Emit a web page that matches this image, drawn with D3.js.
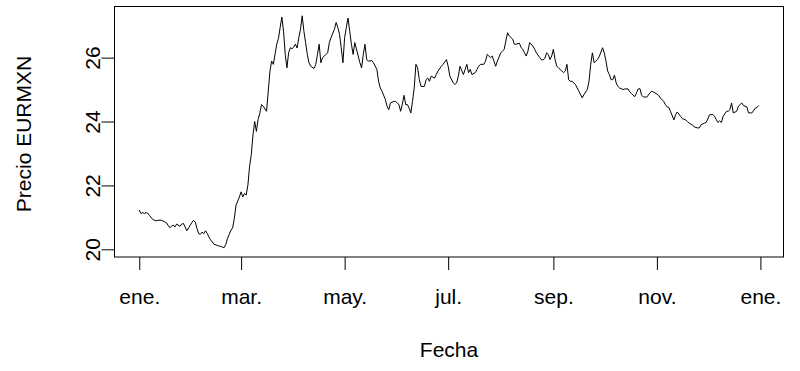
<!DOCTYPE html>
<html>
<head>
<meta charset="utf-8">
<script src="https://cdn.jsdelivr.net/npm/d3@7"></script>
<style>
  body { margin: 0; background: #fff; }
  text { font-family: "Liberation Sans", Arial, sans-serif; fill: #000; }
</style>
</head>
<body>
<div id="chart"></div>
<script>
// daily EURMXN closes, one line per month
var fechas = [
  "2020-01-01","2020-01-02","2020-01-03","2020-01-04","2020-01-05","2020-01-06","2020-01-07","2020-01-09","2020-01-10","2020-01-11","2020-01-12","2020-01-14","2020-01-16","2020-01-17","2020-01-18","2020-01-19","2020-01-20","2020-01-21","2020-01-22","2020-01-23","2020-01-25","2020-01-26","2020-01-27","2020-01-28","2020-01-29","2020-01-31",
  "2020-02-01","2020-02-02","2020-02-03","2020-02-04","2020-02-05","2020-02-06","2020-02-07","2020-02-08","2020-02-09","2020-02-10","2020-02-11","2020-02-12","2020-02-13","2020-02-14","2020-02-16","2020-02-18","2020-02-19","2020-02-20","2020-02-21","2020-02-22","2020-02-23","2020-02-24","2020-02-25","2020-02-26","2020-02-27","2020-02-29",
  "2020-03-01","2020-03-02","2020-03-03","2020-03-04","2020-03-05","2020-03-06","2020-03-07","2020-03-08","2020-03-09","2020-03-10","2020-03-11","2020-03-12","2020-03-13","2020-03-14","2020-03-16","2020-03-17","2020-03-18","2020-03-19","2020-03-20","2020-03-21","2020-03-22","2020-03-23","2020-03-24","2020-03-25","2020-03-26","2020-03-27","2020-03-28","2020-03-29","2020-03-30","2020-03-31",
  "2020-04-01","2020-04-02","2020-04-03","2020-04-04","2020-04-05","2020-04-06","2020-04-07","2020-04-08","2020-04-09","2020-04-10","2020-04-11","2020-04-13","2020-04-14","2020-04-15","2020-04-16","2020-04-17","2020-04-18","2020-04-20","2020-04-21","2020-04-22","2020-04-23","2020-04-25","2020-04-26","2020-04-27","2020-04-28","2020-04-29","2020-04-30",
  "2020-05-01","2020-05-02","2020-05-03","2020-05-04","2020-05-05","2020-05-06","2020-05-07","2020-05-09","2020-05-10","2020-05-11","2020-05-12","2020-05-13","2020-05-14","2020-05-15","2020-05-17","2020-05-18","2020-05-20","2020-05-21","2020-05-22","2020-05-23","2020-05-25","2020-05-26","2020-05-27","2020-05-28","2020-05-30","2020-05-31",
  "2020-06-02","2020-06-03","2020-06-04","2020-06-05","2020-06-06","2020-06-07","2020-06-08","2020-06-09","2020-06-10","2020-06-11","2020-06-12","2020-06-13","2020-06-14","2020-06-15","2020-06-17","2020-06-18","2020-06-19","2020-06-20","2020-06-21","2020-06-23","2020-06-24","2020-06-25","2020-06-27","2020-06-28","2020-06-30",
  "2020-07-01","2020-07-02","2020-07-04","2020-07-05","2020-07-06","2020-07-07","2020-07-08","2020-07-10","2020-07-11","2020-07-12","2020-07-13","2020-07-14","2020-07-15","2020-07-17","2020-07-18","2020-07-19","2020-07-20","2020-07-22","2020-07-23","2020-07-24","2020-07-25","2020-07-26","2020-07-27","2020-07-28","2020-07-29","2020-07-30",
  "2020-08-01","2020-08-02","2020-08-03","2020-08-04","2020-08-05","2020-08-06","2020-08-07","2020-08-08","2020-08-09","2020-08-10","2020-08-12","2020-08-13","2020-08-14","2020-08-15","2020-08-16","2020-08-17","2020-08-18","2020-08-20","2020-08-21","2020-08-22","2020-08-24","2020-08-25","2020-08-26","2020-08-27","2020-08-28","2020-08-29","2020-08-30","2020-08-31",
  "2020-09-01","2020-09-02","2020-09-03","2020-09-04","2020-09-06","2020-09-07","2020-09-08","2020-09-09","2020-09-10","2020-09-11","2020-09-12","2020-09-14","2020-09-15","2020-09-16","2020-09-18","2020-09-19","2020-09-21","2020-09-22","2020-09-23","2020-09-24","2020-09-25","2020-09-26","2020-09-27","2020-09-28","2020-09-30",
  "2020-10-01","2020-10-02","2020-10-03","2020-10-04","2020-10-05","2020-10-06","2020-10-07","2020-10-08","2020-10-09","2020-10-10","2020-10-12","2020-10-13","2020-10-15","2020-10-16","2020-10-17","2020-10-18","2020-10-19","2020-10-20","2020-10-21","2020-10-22","2020-10-23","2020-10-24","2020-10-25","2020-10-26","2020-10-28","2020-10-29","2020-10-30",
  "2020-11-01","2020-11-02","2020-11-03","2020-11-05","2020-11-06","2020-11-07","2020-11-08","2020-11-09","2020-11-11","2020-11-12","2020-11-13","2020-11-15","2020-11-16","2020-11-18","2020-11-19","2020-11-20","2020-11-22","2020-11-23","2020-11-25","2020-11-26","2020-11-27","2020-11-29","2020-11-30",
  "2020-12-01","2020-12-02","2020-12-04","2020-12-05","2020-12-06","2020-12-07","2020-12-08","2020-12-09","2020-12-10","2020-12-12","2020-12-13","2020-12-14","2020-12-15","2020-12-16","2020-12-18","2020-12-19","2020-12-21","2020-12-22","2020-12-24","2020-12-25","2020-12-26","2020-12-27","2020-12-29","2020-12-30","2020-12-31"
];
var precios = [
  21.23,21.12,21.15,21.12,21.15,21.13,21.06,20.93,20.91,20.89,20.91,20.91,20.86,20.83,20.75,20.68,20.72,20.76,20.70,20.79,20.72,20.79,20.81,20.70,20.58,20.75,
  20.84,20.91,20.85,20.65,20.49,20.47,20.54,20.49,20.58,20.50,20.39,20.30,20.23,20.16,20.12,20.09,20.07,20.05,20.16,20.34,20.47,20.60,20.67,20.97,21.38,21.64,
  21.80,21.64,21.75,21.70,22.01,22.60,22.96,23.58,24.00,23.69,24.06,24.25,24.53,24.48,24.32,24.95,25.58,25.89,25.79,26.10,26.42,26.60,26.94,27.27,26.83,26.10,25.68,26.15,26.31,26.28,
  26.33,26.42,26.30,26.63,26.89,27.31,26.83,26.47,26.10,25.84,25.73,25.66,25.79,26.10,26.42,25.84,26.00,26.10,26.15,26.47,26.63,26.89,27.10,26.94,26.73,26.31,25.84,
  26.63,26.94,27.24,26.83,26.42,26.10,26.47,26.05,25.84,25.68,26.10,26.42,25.94,25.89,25.91,25.84,25.63,25.26,25.05,24.95,24.69,24.48,24.37,24.58,24.63,24.63,
  24.53,24.32,24.55,24.82,24.53,24.53,24.42,24.27,24.63,25.05,25.79,25.68,25.31,25.10,25.10,25.31,25.36,25.26,25.42,25.36,25.47,25.58,25.73,25.79,25.94,
  25.73,25.42,25.21,25.16,25.21,25.42,25.73,25.47,25.63,25.79,25.53,25.63,25.47,25.53,25.63,25.73,25.79,25.79,25.89,26.10,26.05,26.00,26.05,25.89,25.73,25.89,
  26.15,26.20,26.26,26.52,26.78,26.68,26.63,26.58,26.42,26.42,26.45,26.31,26.26,26.15,26.05,26.20,26.47,26.36,26.26,26.15,26.00,25.93,25.93,25.98,26.15,26.10,25.94,26.05,
  26.26,25.94,25.73,25.68,25.58,25.53,25.58,25.79,25.31,25.26,25.26,25.16,25.05,24.95,24.74,24.84,25.00,25.26,25.79,26.15,25.84,25.89,25.94,26.03,26.31,
  26.15,25.89,25.58,25.47,25.31,25.31,25.45,25.21,25.10,25.05,25.00,25.02,25.02,24.93,24.88,24.82,24.78,24.90,25.02,25.03,24.82,24.77,24.77,24.76,24.90,24.95,24.92,
  24.86,24.82,24.74,24.63,24.53,24.46,24.44,24.32,24.05,24.21,24.30,24.16,24.09,24.05,24.00,23.95,23.89,23.83,23.80,23.80,23.90,23.95,23.97,
  24.08,24.21,24.22,24.16,24.06,23.97,24.02,23.97,24.16,24.32,24.32,24.37,24.58,24.27,24.32,24.48,24.58,24.50,24.46,24.27,24.27,24.27,24.42,24.44,24.50
];

// axis ticks
var xTickFechas = ["2020-01-01","2020-03-01","2020-05-01","2020-07-01","2020-09-01","2020-11-01","2021-01-01"];
var xTickLabels = ["ene.","mar.","may.","jul.","sep.","nov.","ene."];
var yTicks = [20, 22, 24, 26];

// set the dimensions and margins of the graph
var margin = {top: 6.5, right: 16.5, bottom: 114, left: 114.5},
    width = 800 - margin.left - margin.right,
    height = 371 - margin.top - margin.bottom;

var fontSize = 21;

var svg = d3.select("#chart")
  .append("svg")
    .attr("width", 800)
    .attr("height", 371)
  .append("g")
    .attr("transform", "translate(" + margin.left + "," + margin.top + ")");

var parseDate = d3.timeParse("%Y-%m-%d");
var data = fechas.map(function(f, i) { return {fecha: parseDate(f), precio: precios[i]}; });

// R style ranges: data extent plus 4% each side
var xExt = d3.extent(data, function(d) { return d.fecha; });
var xPad = (xExt[1] - xExt[0]) * 0.04;
var x = d3.scaleTime()
  .domain([new Date(+xExt[0] - xPad), new Date(+xExt[1] + xPad)])
  .range([0, width]);

var yExt = d3.extent(data, function(d) { return d.precio; });
var yPad = (yExt[1] - yExt[0]) * 0.04;
var y = d3.scaleLinear()
  .domain([yExt[0] - yPad, yExt[1] + yPad])
  .range([height, 0]);

// X axis
var xAxis = svg.append("g")
  .attr("transform", "translate(0," + height + ")")
  .call(d3.axisBottom(x)
    .tickValues(xTickFechas.map(parseDate))
    .tickFormat(function(d, i) { return xTickLabels[i]; })
    .tickSize(13)
    .tickSizeOuter(0)
    .tickPadding(19));
xAxis.select(".domain").remove();
xAxis.selectAll("line").attr("stroke", "#000");
xAxis.selectAll("text")
  .attr("font-size", fontSize)
  .attr("font-family", "Liberation Sans, Arial, sans-serif");

// Y axis, labels turned like R's las = 0
var yAxis = svg.append("g")
  .call(d3.axisLeft(y)
    .tickValues(yTicks)
    .tickSize(13)
    .tickSizeOuter(0));
yAxis.select(".domain").remove();
yAxis.selectAll("line").attr("stroke", "#000");
yAxis.selectAll("text")
  .attr("x", 0)
  .attr("y", 0)
  .attr("dy", null)
  .attr("text-anchor", "middle")
  .attr("transform", "translate(-15,0) rotate(-90)")
  .attr("font-size", fontSize)
  .attr("font-family", "Liberation Sans, Arial, sans-serif");

// plot box
svg.append("rect")
  .attr("x", 0)
  .attr("y", 0)
  .attr("width", width)
  .attr("height", height)
  .attr("fill", "none")
  .attr("stroke", "#000")
  .attr("stroke-width", 1);

// the series
svg.append("path")
  .datum(data)
  .attr("fill", "none")
  .attr("stroke", "#000")
  .attr("stroke-width", 1)
  .attr("d", d3.line()
    .x(function(d) { return x(d.fecha); })
    .y(function(d) { return y(d.precio); }));

// axis titles
svg.append("text")
  .attr("x", width / 2)
  .attr("y", 350)
  .attr("text-anchor", "middle")
  .attr("font-size", fontSize)
  .text("Fecha");

svg.append("text")
  .attr("transform", "translate(" + (31 - margin.left) + "," + (134 - margin.top) + ") rotate(-90)")
  .attr("text-anchor", "middle")
  .attr("font-size", fontSize)
  .text("Precio EURMXN");
</script>
</body>
</html>
